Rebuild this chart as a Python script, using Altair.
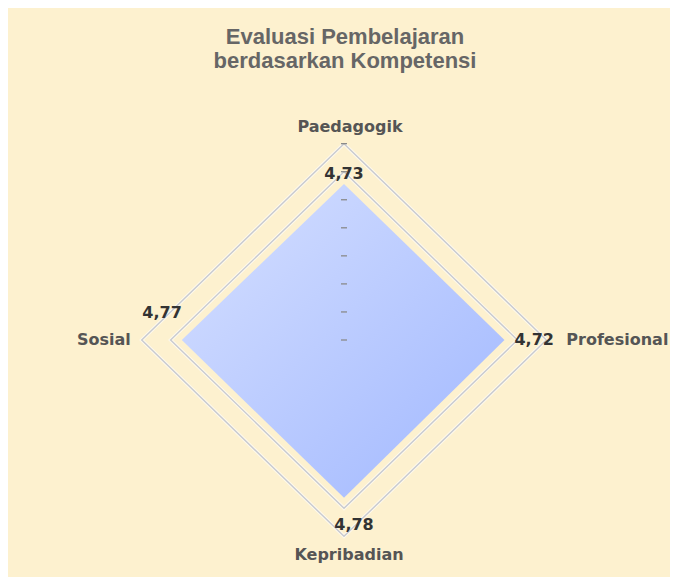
import math
import altair as alt
import pandas as pd

# ---- data ----
categories = ["Paedagogik", "Profesional", "Kepribadian", "Sosial"]
values = [4.73, 4.72, 4.78, 4.77]
value_labels = ["4,73", "4,72", "4,78", "4,77"]
angles_deg = [0, 90, 180, 270]          # clockwise from the top
grid_levels = [5.1, 5.95]
tick_values = [0, 0.85, 1.7, 2.55, 3.4, 4.25, 5.1, 5.95]
title_lines = ["Evaluasi Pembelajaran", "berdasarkan Kompetensi"]

# ---- layout constants ----
W, H = 662, 569
CX, CY = 336, 332        # centre of the radar, px inside the plot
KX, KY = 34.0, 33.0      # px per value unit
LABEL_R = 6.45
x_dom = [-CX / KX, (W - CX) / KX]
y_dom = [-(H - CY) / KY, CY / KY]

BG = "#FDF1CF"


def polar(v, a):
    r = math.radians(a)
    return round(v * math.sin(r), 6), round(v * math.cos(r), 6)


pts = pd.DataFrame({
    "category": categories,
    "value": values,
    "label": value_labels,
    "angle": angles_deg,
})
pts["x"] = [polar(v, a)[0] for v, a in zip(values, angles_deg)]
pts["y"] = [polar(v, a)[1] for v, a in zip(values, angles_deg)]
pts["lx"] = [polar(LABEL_R, a)[0] for a in angles_deg]
pts["ly"] = [polar(LABEL_R, a)[1] for a in angles_deg]

byc = {c: (x, y) for c, x, y in zip(pts["category"], pts["x"], pts["y"])}
area_df = pd.DataFrame({
    "x": [byc["Sosial"][0], 0.0, byc["Profesional"][0]],
    "y": [0.0, byc["Paedagogik"][1], 0.0],
    "y2": [0.0, byc["Kepribadian"][1], 0.0],
})

grid_rows = []
for lev in grid_levels:
    for i, a in enumerate(angles_deg + [angles_deg[0]]):
        gx, gy = polar(lev, a)
        grid_rows.append({"level": lev, "order": i, "x": gx, "y": gy})
grid_df = pd.DataFrame(grid_rows)

tick_df = pd.DataFrame({"x": [0.0] * len(tick_values), "y": tick_values})


def X(field="x"):
    return alt.X(f"{field}:Q", scale=alt.Scale(domain=x_dom, nice=False, zero=False), axis=None)


def Y(field="y"):
    return alt.Y(f"{field}:Q", scale=alt.Scale(domain=y_dom, nice=False, zero=False), axis=None)


grid_halo = alt.Chart(grid_df).mark_line(stroke="#ffffff", strokeWidth=3.5, opacity=0.6).encode(
    x=X(), y=Y(), order="order:Q", detail="level:N")
grid_line = alt.Chart(grid_df).mark_line(stroke="#c8cad0", strokeWidth=1.4).encode(
    x=X(), y=Y(), order="order:Q", detail="level:N")

fill = alt.Chart(area_df).mark_area(
    line=False,
    color=alt.Gradient(
        gradient="linear",
        stops=[alt.GradientStop(color="#d6e0ff", offset=0),
               alt.GradientStop(color="#a0b7ff", offset=1)],
        x1=0, y1=0, x2=1, y2=1),
).encode(x=X(), y=Y(), y2=alt.Y2("y2:Q"))

ticks = alt.Chart(tick_df).mark_point(
    shape="M-1,0L1,0", size=36, filled=False, color="#8a8a8a", strokeWidth=1.3, opacity=1
).encode(x=X(), y=Y())

base_pts = alt.Chart(pts)
lab_font = dict(font="DejaVu Sans", fontWeight="bold", fontSize=16)


def val_text(cat, **kw):
    return base_pts.transform_filter(alt.datum.category == cat).mark_text(
        color="#333333", **lab_font, **kw).encode(x=X(), y=Y(), text="label:N")


def ax_text(cat, **kw):
    return base_pts.transform_filter(alt.datum.category == cat).mark_text(
        color="#555555", **lab_font, **kw).encode(x=X("lx"), y=Y("ly"), text="category:N")


texts = [
    val_text("Paedagogik", align="center", baseline="bottom", dy=-2),
    val_text("Profesional", align="left", baseline="middle", dx=10),
    val_text("Kepribadian", align="center", baseline="top", dx=10, dy=19),
    val_text("Sosial", align="right", baseline="bottom", dy=-19),
    ax_text("Paedagogik", align="center", baseline="middle", dx=6),
    ax_text("Profesional", align="left", baseline="middle", dx=3),
    ax_text("Kepribadian", align="center", baseline="middle", dx=5, dy=2),
    ax_text("Sosial", align="right", baseline="middle", dx=6),
]

chart = alt.layer(grid_halo, grid_line, fill, ticks, *texts).properties(
    width=W, height=H,
    autosize=alt.AutoSizeParams(type="none"),
    padding=0,
    background=BG,
    title=alt.TitleParams(
        text=title_lines, anchor="middle", frame="group", orient="top",
        font="Liberation Sans", fontSize=22, fontWeight="bold", color="#666666",
        lineHeight=24, offset=-65, dx=6),
).configure_view(stroke=None)

chart.save("out.html", embed_options={"renderer": "svg", "actions": False})
